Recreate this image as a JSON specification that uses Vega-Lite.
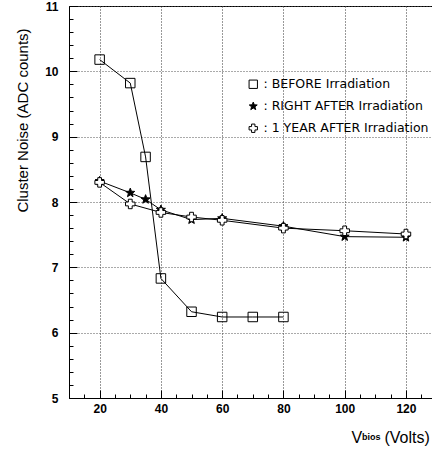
{
  "$schema": "https://vega.github.io/schema/vega-lite/v6.json",
  "width": 363,
  "height": 392,
  "autosize": {"type": "none"},
  "padding": {"left": 69, "top": 6, "right": 0, "bottom": 52},
  "background": "white",
  "title": {
    "text": "bios",
    "orient": "bottom",
    "anchor": "start",
    "frame": "group",
    "font": "Liberation Sans",
    "fontSize": 9,
    "fontWeight": "bold",
    "color": "black",
    "dx": 293,
    "dy": -12,
    "offset": 0
  },
  "config": {
    "view": {"stroke": "black", "strokeWidth": 1},
    "font": "Liberation Sans",
    "axis": {
      "domainColor": "black",
      "domainWidth": 1,
      "tickColor": "black",
      "tickWidth": 1,
      "labelColor": "black",
      "titleColor": "black",
      "labelFont": "Liberation Sans",
      "titleFont": "Liberation Sans",
      "titleFontWeight": "normal"
    },
    "legend": {
      "title": null,
      "orient": "none",
      "legendX": 178,
      "legendY": 72,
      "padding": 0,
      "labelLimit": 0,
      "labelFont": "DejaVu Sans",
      "labelFontSize": 12.5,
      "labelColor": "black",
      "symbolSize": 70,
      "symbolStrokeWidth": 1,
      "rowPadding": 9,
      "labelOffset": 4
    }
  },
  "data": {
    "values": [
      {"series": "BEFORE Irradiation", "v": 20, "noise": 10.18},
      {"series": "BEFORE Irradiation", "v": 30, "noise": 9.82},
      {"series": "BEFORE Irradiation", "v": 35, "noise": 8.69},
      {"series": "BEFORE Irradiation", "v": 40, "noise": 6.83},
      {"series": "BEFORE Irradiation", "v": 50, "noise": 6.32},
      {"series": "BEFORE Irradiation", "v": 60, "noise": 6.24},
      {"series": "BEFORE Irradiation", "v": 70, "noise": 6.24},
      {"series": "BEFORE Irradiation", "v": 80, "noise": 6.24},
      {"series": "RIGHT AFTER Irradiation", "v": 20, "noise": 8.32},
      {"series": "RIGHT AFTER Irradiation", "v": 30, "noise": 8.14},
      {"series": "RIGHT AFTER Irradiation", "v": 35, "noise": 8.04},
      {"series": "RIGHT AFTER Irradiation", "v": 40, "noise": 7.88},
      {"series": "RIGHT AFTER Irradiation", "v": 50, "noise": 7.73},
      {"series": "RIGHT AFTER Irradiation", "v": 60, "noise": 7.75},
      {"series": "RIGHT AFTER Irradiation", "v": 80, "noise": 7.63},
      {"series": "RIGHT AFTER Irradiation", "v": 100, "noise": 7.47},
      {"series": "RIGHT AFTER Irradiation", "v": 120, "noise": 7.46},
      {"series": "1 YEAR AFTER Irradiation", "v": 20, "noise": 8.3},
      {"series": "1 YEAR AFTER Irradiation", "v": 30, "noise": 7.97},
      {"series": "1 YEAR AFTER Irradiation", "v": 40, "noise": 7.84},
      {"series": "1 YEAR AFTER Irradiation", "v": 50, "noise": 7.77},
      {"series": "1 YEAR AFTER Irradiation", "v": 60, "noise": 7.72},
      {"series": "1 YEAR AFTER Irradiation", "v": 80, "noise": 7.6},
      {"series": "1 YEAR AFTER Irradiation", "v": 100, "noise": 7.56},
      {"series": "1 YEAR AFTER Irradiation", "v": 120, "noise": 7.51}
    ]
  },
  "encoding": {
    "x": {
      "field": "v",
      "type": "quantitative",
      "scale": {"domain": [10, 128.5], "nice": false, "zero": false},
      "axis": {
        "values": [15, 20, 25, 30, 35, 40, 45, 50, 55, 60, 65, 70, 75, 80, 85, 90, 95, 100, 105, 110, 115, 120, 125],
        "format": ".0f",
        "labelExpr": "datum.value % 20 === 0 ? datum.label : ''",
        "tickSize": {"condition": {"test": "datum.value % 20 === 0", "value": -8}, "value": -4},
        "labelFontSize": 12,
        "labelFontWeight": "bold",
        "labelPadding": 13,
        "labelFlush": false,
        "labelOverlap": false,
        "grid": true,
        "gridColor": "#333",
        "gridDash": [1, 2],
        "gridWidth": 1,
        "gridOpacity": {"condition": {"test": "datum.value % 20 === 0", "value": 1}, "value": 0},
        "title": "V\u00a0\u00a0\u00a0\u00a0\u00a0(Volts)",
        "titleFontSize": 16,
        "titleAlign": "left",
        "titleBaseline": "alphabetic",
        "titleX": 282,
        "titleY": 44
      }
    },
    "y": {
      "field": "noise",
      "type": "quantitative",
      "scale": {"domain": [5, 11], "nice": false, "zero": false},
      "axis": {
        "values": [5, 5.2, 5.4, 5.6, 5.8, 6, 6.2, 6.4, 6.6, 6.8, 7, 7.2, 7.4, 7.6, 7.8, 8, 8.2, 8.4, 8.6, 8.8, 9, 9.2, 9.4, 9.6, 9.8, 10, 10.2, 10.4, 10.6, 10.8, 11],
        "format": ".0f",
        "labelExpr": "abs(datum.value - round(datum.value)) < 0.01 ? datum.label : ''",
        "tickSize": {"condition": {"test": "abs(datum.value - round(datum.value)) < 0.01", "value": -8}, "value": -4},
        "labelFontSize": 12,
        "labelFontWeight": "bold",
        "labelPadding": 19,
        "labelFlush": false,
        "labelOverlap": false,
        "grid": true,
        "gridColor": "#555",
        "gridDash": [1, 2],
        "gridWidth": 1,
        "gridOpacity": {"condition": {"test": "abs(datum.value - round(datum.value)) < 0.01", "value": 1}, "value": 0},
        "title": "Cluster Noise (ADC counts)",
        "titleFontSize": 15,
        "titleX": -47,
        "titleY": 114,
        "titleBaseline": "middle"
      }
    }
  },
  "layer": [
    {
      "mark": {"type": "line", "color": "black", "strokeWidth": 1},
      "encoding": {"detail": {"field": "series"}}
    },
    {
      "mark": {"type": "point", "strokeWidth": 1, "size": 90, "opacity": 1},
      "encoding": {
        "shape": {
          "field": "series",
          "type": "nominal",
          "scale": {
            "domain": ["BEFORE Irradiation", "RIGHT AFTER Irradiation", "1 YEAR AFTER Irradiation"],
            "range": ["square", "M0,-1L0.247,-0.34L0.951,-0.309L0.399,0.13L0.588,0.809L0,0.42L-0.588,0.809L-0.399,0.13L-0.951,-0.309L-0.247,-0.34Z", "cross"]
          },
          "legend": {"labelExpr": "': ' + datum.label"}
        },
        "fill": {
          "field": "series",
          "type": "nominal",
          "scale": {
            "domain": ["BEFORE Irradiation", "RIGHT AFTER Irradiation", "1 YEAR AFTER Irradiation"],
            "range": ["transparent", "black", "white"]
          },
          "legend": {"labelExpr": "': ' + datum.label"}
        },
        "stroke": {
          "field": "series",
          "type": "nominal",
          "scale": {
            "domain": ["BEFORE Irradiation", "RIGHT AFTER Irradiation", "1 YEAR AFTER Irradiation"],
            "range": ["black", "black", "black"]
          },
          "legend": {"labelExpr": "': ' + datum.label"}
        }
      }
    }
  ]
}
